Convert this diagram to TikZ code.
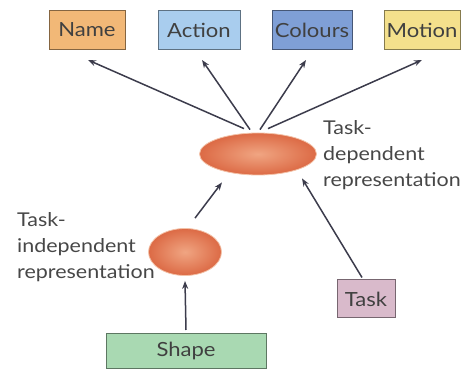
\documentclass[tikz,border=0pt]{standalone}
\usepackage{fontspec}
\setmainfont[FakeStretch=1.13]{Lato}
\usetikzlibrary{arrows.meta,shapes.geometric}
\begin{document}
\begin{tikzpicture}[x=1pt,y=-1pt,
  box/.style={draw=#1!55!black,line width=1pt,fill=#1,minimum height=39pt,inner sep=1pt,font=\fontsize{19.5}{20}\selectfont,text=black!75},
  blob/.style={ellipse,draw=cblobedge,line width=0.8pt,inner color=cblobin,outer color=cblobout,minimum width=#1},
  lbl/.style={align=left,font=\fontsize{19}{26}\selectfont,text=black!72,inner sep=0pt},
  arr/.style={-{Stealth[length=8pt,width=6pt]},line width=1.5pt,draw=carrow}]
\useasboundingbox (0,0) rectangle (466,371);
\definecolor{cname}{HTML}{F2B877}
\definecolor{caction}{HTML}{A9CDEE}
\definecolor{ccol}{HTML}{7F9FD6}
\definecolor{cmot}{HTML}{F4E08C}
\definecolor{ctask}{HTML}{D9BACB}
\definecolor{cshape}{HTML}{A9D9B2}
\definecolor{cblobin}{HTML}{F0A582}
\definecolor{cblobout}{HTML}{DC6A45}
\definecolor{cblobedge}{HTML}{F3C2A8}
\definecolor{carrow}{HTML}{3C3C4C}
\node[box=cname,minimum width=76pt] (name) at (87,30) {Name};
\node[box=caction,minimum width=82pt] (action) at (199,30) {Action};
\node[box=ccol,minimum width=80pt] (col) at (312,30) {Colours};
\node[box=cmot,minimum width=76pt] (mot) at (422,30) {Motion};
\node[blob=117pt,minimum height=42pt] (dep) at (258,154) {};
\node[blob=73pt,minimum height=47pt] (ind) at (185,252) {};
\node[box=ctask,minimum width=58pt,minimum height=38pt] (task) at (366,299) {Task};
\node[box=cshape,minimum width=160pt,minimum height=35pt] (shape) at (186,351) {Shape};
\node[lbl,anchor=north west] (deplbl) at (323,120) {Task-\\dependent\\representation};
\node[lbl,anchor=north west] (indlbl) at (17,212) {Task-\\independent\\representation};
\coordinate (n1) at (88,60);
\coordinate (n2) at (202,60);
\coordinate (n3) at (306,60);
\coordinate (n4) at (422,60);
\draw[arr] (dep.north) ++(-14,-4) -- (n1);
\draw[arr] (dep.north) ++(-8,-3) -- (n2);
\draw[arr] (dep.north) ++(2,-3) -- (n3);
\draw[arr] (dep.north) ++(10,-4) -- (n4);
\draw[arr] (ind.north) ++(10,-10) -- ([shift={(-36,7)}]dep.south);
\draw[arr] (task.north) ++(-4,-2) -- ([shift={(44,3)}]dep.south);
\draw[arr] (shape.north) ++(0,-3) -- ([shift={(0,5)}]ind.south);
\end{tikzpicture}
\end{document}
